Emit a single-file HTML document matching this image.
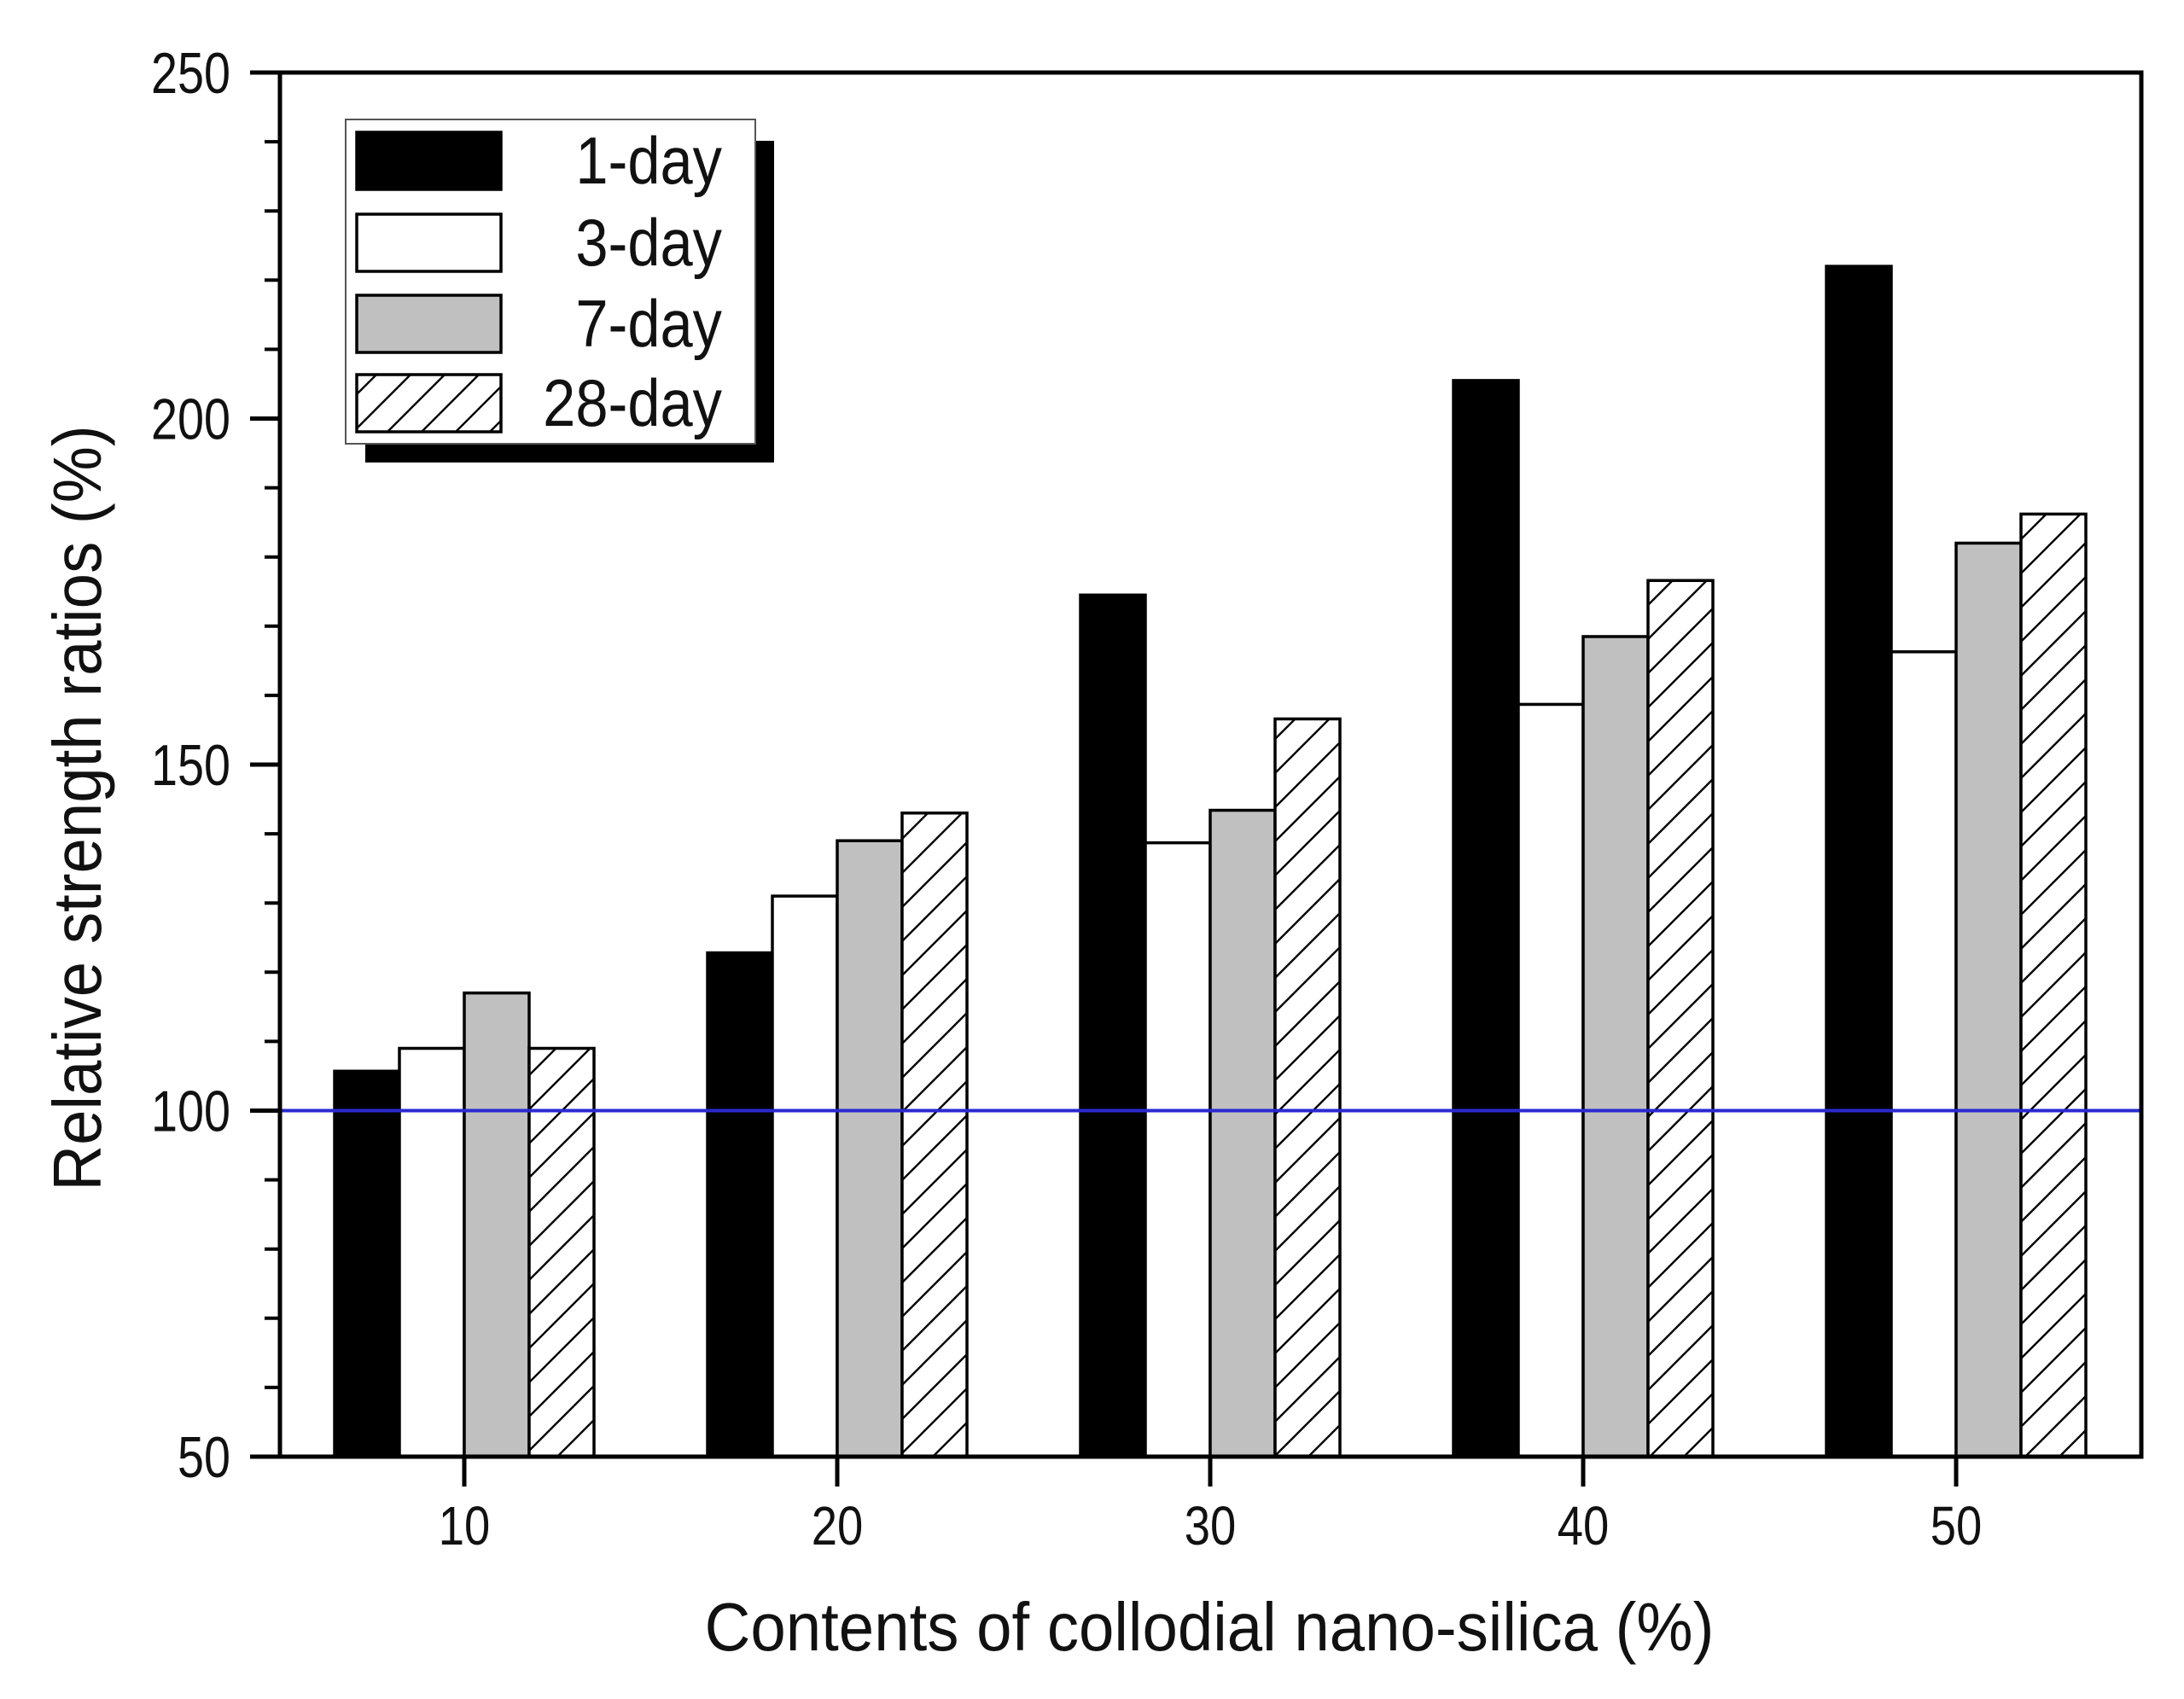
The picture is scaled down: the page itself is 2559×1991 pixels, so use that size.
<!DOCTYPE html>
<html><head><meta charset="utf-8"><style>
html,body{margin:0;padding:0;background:#fff;}
svg{display:block;font-family:"Liberation Sans",Arial,sans-serif;}
</style></head><body>
<svg id="chart" width="2559" height="1991" viewBox="0 0 2559 1991" xmlns="http://www.w3.org/2000/svg">
<defs>
<pattern id="hatch" patternUnits="userSpaceOnUse" width="40" height="40">
<rect width="40" height="40" fill="#fff"/>
<path d="M-10,50 L50,-10 M-10,10 L10,-10 M30,50 L50,30" stroke="#000" stroke-width="2.4"/>
</pattern>
</defs>
<g id="plot"></g>
</svg>
<script>
const categories = [10, 20, 30, 40, 50];
const seriesNames = ["1-day", "3-day", "7-day", "28-day"];
const day1 = [105.7, 122.8, 174.5, 205.5, 222];
const day3 = [109, 131, 138.7, 158.7, 166.3];
const day7 = [117, 139, 143.4, 168.5, 182];
const day28 = [109, 143, 156.6, 176.6, 186.2];
const yTicks = [50, 100, 150, 200, 250];
const yMinorTicks = [60,70,80,90,110,120,130,140,160,170,180,190,210,220,230,240];
const refValue = 100;

const L=328, R=2509, T=85, B=1707;
const yMin=50, yMax=250;
function y(v){return B-(v-yMin)/(yMax-yMin)*(B-T);}
function x(c){return 544+(c-10)/10*437;}
const barW=76;
const fills=["#000","#fff","#c0c0c0","url(#hatch)"];
const series=[day1,day3,day7,day28];

const NS="http://www.w3.org/2000/svg";
const g=document.getElementById('plot');
function el(tag,attrs,parent){const e=document.createElementNS(NS,tag);for(const k in attrs)e.setAttribute(k,attrs[k]);(parent||g).appendChild(e);return e;}
function ntext(px,py,sx,attrs,parent){attrs.x=0;attrs.y=0;attrs.transform='translate('+px+','+py+') scale('+sx+',1)';return el('text',attrs,parent);}

series.forEach((vals,si)=>{
  vals.forEach((v,ci)=>{
    const x0=x(categories[ci])+(si-2)*barW;
    const r=el('rect',{x:x0,y:y(v),width:barW,height:B-y(v),fill:fills[si],stroke:'#000','stroke-width':3.5});
    
    
  });
});

const ref=el('line',{x1:L,x2:R,y1:y(refValue),y2:y(refValue),stroke:'#2a2ad0','stroke-width':4});



const frame=el('rect',{x:L,y:T,width:R-L,height:B-T,fill:'none',stroke:'#000','stroke-width':5});



yTicks.forEach(v=>{
  const t=el('line',{x1:L-35,x2:L,y1:y(v),y2:y(v),stroke:'#000','stroke-width':5});
  
  
  const lb=ntext(270,y(v)+24,0.82,{'text-anchor':'end','font-size':68,fill:'#111'});
  lb.textContent=v;
  
  
});
yMinorTicks.forEach(v=>{
  const t=el('line',{x1:L-18,x2:L,y1:y(v),y2:y(v),stroke:'#000','stroke-width':4});
  
  
});
categories.forEach(c=>{
  const t=el('line',{x1:x(c),x2:x(c),y1:B,y2:B+35,stroke:'#000','stroke-width':5});
  
  
  const lb=ntext(x(c),1810,0.85,{'text-anchor':'middle','font-size':64,fill:'#111'});
  lb.textContent=c;
  
  
});

const xt=ntext(1417,1934,0.93,{'text-anchor':'middle','font-size':80,fill:'#111'});
xt.textContent='Contents of collodial nano-silica (%)';


const yt=el('text',{x:0,y:0,'text-anchor':'middle','font-size':80,fill:'#111',transform:'translate(118,947) rotate(-90) scale(0.93,1)'});
yt.textContent='Relative strength ratios (%)';



const lg=el('g',{});


el('rect',{x:428,y:165,width:479,height:377,fill:'#000'},lg);
el('rect',{x:405,y:140,width:480,height:380,fill:'#fff',stroke:'#555','stroke-width':2},lg);
const rowsY=[155,251,346,439];
seriesNames.forEach((n,i)=>{
  const sw=el('rect',{x:418,y:rowsY[i],width:169,height:67,fill:fills[i],stroke:'#000','stroke-width':3.5},lg);
  
  
  const tx=ntext(846,rowsY[i]+60,0.88,{'text-anchor':'end','font-size':78,fill:'#111'},lg);
  tx.textContent=n;
  
  
});
</script>
</body></html>
